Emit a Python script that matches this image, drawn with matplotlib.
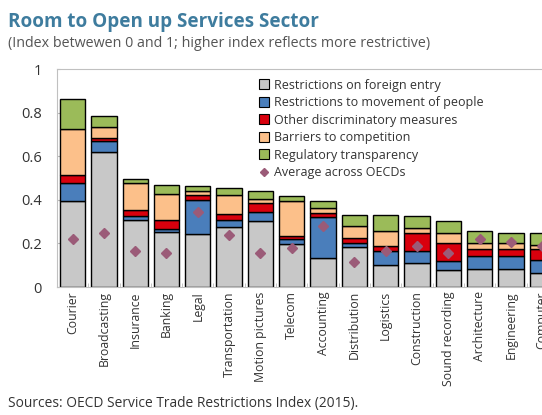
import matplotlib
matplotlib.use('Agg')
import matplotlib.pyplot as plt
import numpy as np
from matplotlib.lines import Line2D

plt.rcParams['font.family'] = ['Open Sans', 'DejaVu Sans']

# Sectors and components of the OECD STRI
sectors = ['Courier', 'Broadcasting', 'Insurance', 'Banking', 'Legal',
           'Transportation', 'Motion pictures', 'Telecom', 'Accounting',
           'Distribution', 'Logistics', 'Construction', 'Sound recording',
           'Architecture', 'Engineering', 'Computer']
foreign_entry = [0.393, 0.619, 0.306, 0.252, 0.243, 0.275, 0.301, 0.198,
                 0.132, 0.183, 0.101, 0.109, 0.078, 0.082, 0.082, 0.066]
movement_people = [0.082, 0.049, 0.018, 0.015, 0.155, 0.031, 0.042, 0.022,
                   0.187, 0.018, 0.066, 0.058, 0.042, 0.062, 0.062, 0.058]
other_discrim = [0.038, 0.016, 0.028, 0.042, 0.026, 0.029, 0.043, 0.016,
                 0.021, 0.023, 0.023, 0.080, 0.081, 0.031, 0.031, 0.050]
competition = [0.211, 0.052, 0.123, 0.118, 0.015, 0.086, 0.018, 0.157,
               0.023, 0.054, 0.068, 0.023, 0.046, 0.029, 0.029, 0.020]
transparency = [0.138, 0.049, 0.021, 0.043, 0.026, 0.034, 0.038, 0.023,
                0.030, 0.054, 0.074, 0.054, 0.054, 0.051, 0.046, 0.053]
oecd_average = [0.221, 0.247, 0.163, 0.158, 0.344, 0.240, 0.158, 0.181,
                0.278, 0.117, 0.167, 0.189, 0.158, 0.220, 0.206, 0.189]

components = [
    ('Restrictions on foreign entry', foreign_entry, '#C8C8C8'),
    ('Restrictions to movement of people', movement_people, '#4A7EBB'),
    ('Other discriminatory measures', other_discrim, '#D9000D'),
    ('Barriers to competition', competition, '#FCC08A'),
    ('Regulatory transparency', transparency, '#9BBB59'),
]

fig = plt.figure(figsize=(5.42, 4.15), dpi=100)
# axes run past the right edge, as in the cropped original
ax = fig.add_axes([0.105, 0.3084, 0.982, 0.5253])

x = np.arange(len(sectors))
bottom = np.zeros(len(sectors))
for name, vals, col in components:
    ax.bar(x, vals, width=0.81, bottom=bottom, color=col,
           edgecolor='black', linewidth=1.0, zorder=2)
    bottom += np.array(vals)

ax.plot(x, oecd_average, linestyle='none', marker='D', markersize=5.5,
        color='#9B5B78', zorder=3)

ax.set_xlim(-0.5, 16.5)
ax.set_ylim(0, 1)
ax.set_yticks([0, 0.2, 0.4, 0.6, 0.8, 1])
ax.set_yticklabels(['0', '0.2', '0.4', '0.6', '0.8', '1'])
ax.set_xticks(x)
ax.set_xticklabels(sectors, rotation=90)
ax.set_xticks(np.arange(-0.5, 16.5, 1), minor=True)
ax.tick_params(axis='x', which='major', length=0, pad=3, labelsize=8.8,
               labelcolor='#333333')
ax.tick_params(axis='x', which='minor', direction='in', length=3,
               color='#BBBBBB')
ax.tick_params(axis='y', direction='in', length=2, color='#BBBBBB',
               labelsize=10.5, labelcolor='#333333', pad=11)
for s in ['top', 'left', 'bottom']:
    ax.spines[s].set_color('#C0C0C0')
ax.spines['right'].set_visible(False)

handles = [Line2D([], [], linestyle='none', marker='s', markersize=7,
                  markerfacecolor=col, markeredgecolor='black',
                  markeredgewidth=0.8) for _, _, col in components]
handles.append(Line2D([], [], linestyle='none', marker='D', markersize=4.5,
                      color='#9B5B78'))
labels = [c[0] for c in components] + ['Average across OECDs']
fig.legend(handles, labels, loc='upper left', bbox_to_anchor=(0.469, 0.822),
           frameon=False, fontsize=9, handlelength=0.8, handletextpad=0.4,
           labelspacing=0.36, borderaxespad=0, labelcolor='#333333')

fig.text(0.015, 0.947, 'Room to Open up Services Sector', fontsize=13.6,
         fontweight='bold', color='#3E7C9E', va='center')
fig.text(0.015, 0.896, '(Index betwewen 0 and 1; higher index reflects more restrictive)',
         fontsize=10.3, color='#555555', va='center')
fig.text(0.015, 0.028, 'Sources: OECD Service Trade Restrictions Index (2015).',
         fontsize=9.9, color='#333333', va='center')

fig.savefig('out.png', dpi=100)
